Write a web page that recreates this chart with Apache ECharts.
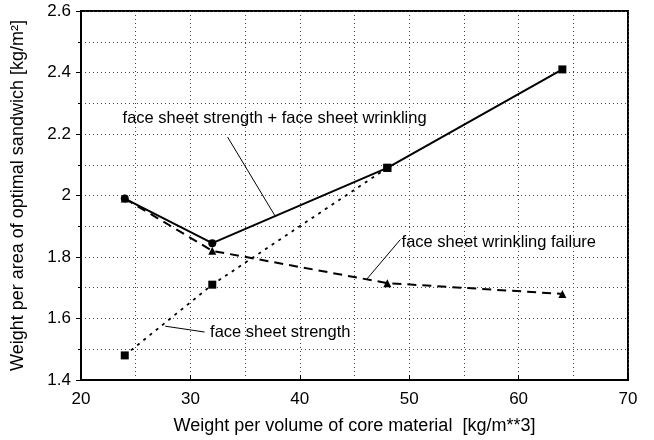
<!DOCTYPE html>
<html><head><meta charset="utf-8">
<script src="https://cdn.jsdelivr.net/npm/echarts@6/dist/echarts.min.js"></script>
<style>html,body{margin:0;padding:0;background:#fff}#c{width:654px;height:440px}</style>
</head><body><div id="c"></div>
<script>
var xValues = [24, 32, 48, 64];
var strengthWrinkling = [1.99, 1.845, 2.09, 2.41];
var wrinklingFailure = [1.99, 1.82, 1.715, 1.68];
var faceStrengthX = [24, 32, 48];
var faceStrength = [1.48, 1.71, 2.09];
var xTicks = [20, 30, 40, 50, 60, 70];
var yTicks = [1.4, 1.6, 1.8, 2.0, 2.2, 2.4, 2.6];
var labelTexts = ['face sheet strength + face sheet wrinkling', 'face sheet wrinkling failure', 'face sheet strength'];
var labelPos = [[23.8, 2.252], [49.3, 1.847], [31.8, 1.556]];
var leaders = [[[33.4, 2.19], [37.8, 1.93]], [[46.1, 1.727], [49.2, 1.857]], [[27.7, 1.575], [31.3, 1.556]]];

var FONT = 'Liberation Sans, Arial, Helvetica, sans-serif';
function pairs(xs, ys){ return xs.map(function(x,i){return [x, ys[i]];}); }
var solidSymbols = ['circle','circle','rect','rect'];
var solidData = pairs(xValues, strengthWrinkling).map(function(p,i){return {value:p, symbol:solidSymbols[i]};});

var chart = echarts.init(document.getElementById('c'), null, {renderer:'canvas'});
chart.setOption({
  animation:false,
  backgroundColor:'#fff',
  grid:{left:81, right:26, top:11, bottom:59, show:true, borderColor:'#000', borderWidth:2},
  xAxis:{type:'value', min:20, max:70, interval:10,
    name:'Weight per volume of core material  [kg/m**3]', nameLocation:'middle', nameGap:37,
    nameTextStyle:{fontFamily:FONT, fontSize:18, color:'#000'},
    axisLine:{show:true, lineStyle:{color:'#000', width:2}},
    axisTick:{show:true, inside:true, length:5, lineStyle:{color:'#000'}},
    minorTick:{show:false, splitNumber:2},
    axisLabel:{fontFamily:FONT, fontSize:17, color:'#000', margin:11,
      formatter:function(v){return xTicks.indexOf(v)>=0? String(v):'';}},
    splitLine:{show:true, lineStyle:{color:'#444', type:[1,3], width:1}},
    minorSplitLine:{show:true, lineStyle:{color:'#444', type:[1,3], width:1}}
  },
  yAxis:{type:'value', min:1.4, max:2.6, interval:0.2,
    name:'Weight per area of optimal sandwich [kg/m\u00b2]', nameLocation:'middle', nameGap:54,
    nameTextStyle:{fontFamily:FONT, fontSize:18, color:'#000'},
    axisLine:{show:true, lineStyle:{color:'#000', width:2}},
    axisTick:{show:true, inside:false, length:5, lineStyle:{color:'#000'}},
    minorTick:{show:true, splitNumber:2, length:3, lineStyle:{color:'#000'}},
    axisLabel:{fontFamily:FONT, fontSize:17, color:'#000', margin:10,
      formatter:function(v){var r=Math.round(v*10)/10; return r===2? '2' : r.toFixed(1);}},
    splitLine:{show:true, lineStyle:{color:'#444', type:[1,3], width:1}},
    minorSplitLine:{show:true, lineStyle:{color:'#444', type:[1,3], width:1}}
  },
  series:[
    {type:'line', data:solidData, symbolSize:8, itemStyle:{color:'#000'},
     lineStyle:{color:'#000', width:2}, z:5,
     markLine:{silent:true, symbol:'none', label:{show:false}, lineStyle:{color:'#000', width:1, type:'solid'},
       data:leaders.map(function(l){return [{coord:l[0]},{coord:l[1]}];})},
     markPoint:{silent:true, symbol:'circle', symbolSize:0,
       label:{show:true, position:'right', distance:0, fontFamily:FONT, fontSize:16.5, color:'#000',
         formatter:function(p){return p.name;}},
       data:labelPos.map(function(p,i){return {name:labelTexts[i], coord:p};})}
    },
    {type:'line', data:pairs(xValues, wrinklingFailure), symbol:'triangle', symbolSize:8,
     itemStyle:{color:'#000'}, lineStyle:{color:'#000', width:2, type:[9,6]}, z:4},
    {type:'line', data:pairs(faceStrengthX, faceStrength), symbol:'rect', symbolSize:8,
     itemStyle:{color:'#000'}, lineStyle:{color:'#000', width:1.8, type:[3,5]}, z:3}
  ]
});
</script></body></html>
